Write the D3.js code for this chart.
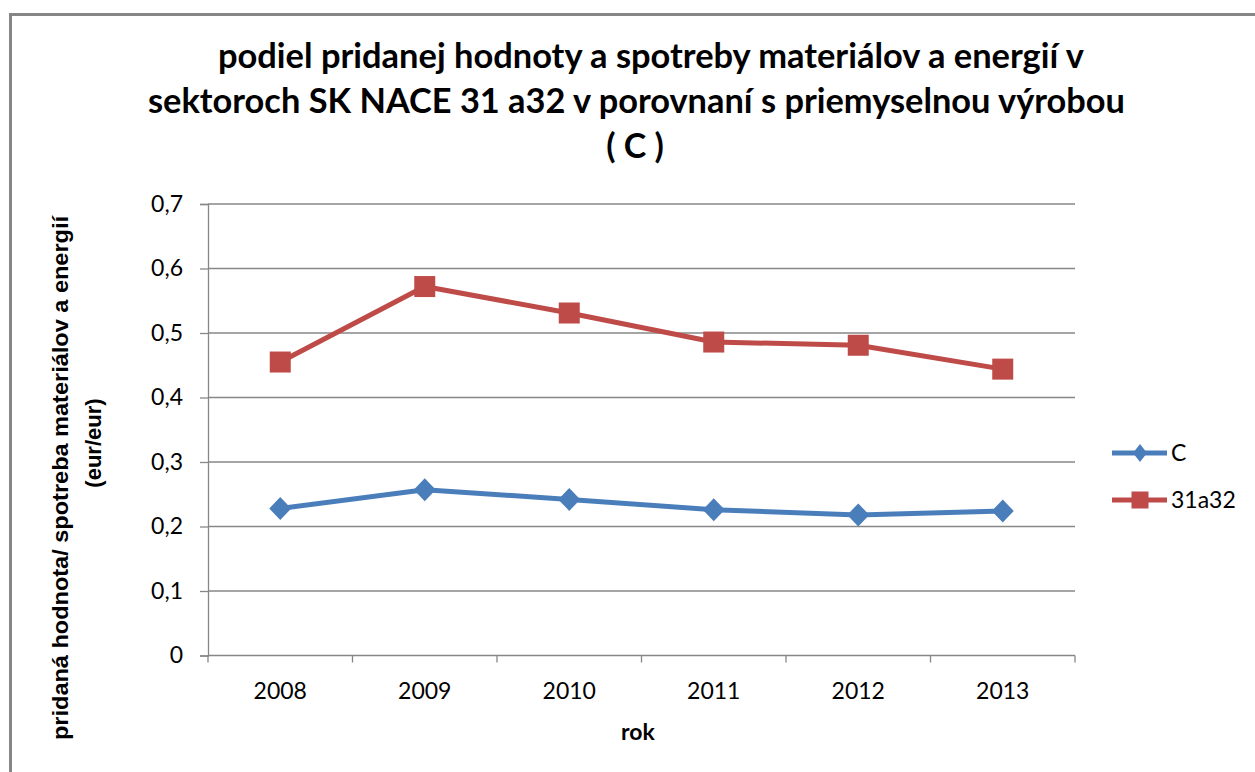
<!DOCTYPE html>
<html>
<head>
<meta charset="utf-8">
<script src="https://cdn.jsdelivr.net/npm/d3@7"></script>
<style>
  html, body { margin: 0; padding: 0; background: #fff; }
  svg { display: block; }
</style>
</head>
<body>
<svg id="chart" width="1255" height="772"></svg>
<script>
// ---- data ----
const years = ["2008", "2009", "2010", "2011", "2012", "2013"];
const seriesNames = ["C", "31a32"];
const valuesC = [0.228, 0.257, 0.242, 0.226, 0.218, 0.224];
const values3132 = [0.455, 0.572, 0.531, 0.486, 0.481, 0.444];
const yTicks = [0, 0.1, 0.2, 0.3, 0.4, 0.5, 0.6, 0.7];
const titleLines = [
  "podiel pridanej hodnoty a spotreby materiálov a energií v",
  "sektoroch SK NACE 31 a32 v porovnaní s priemyselnou výrobou",
  "( C )"
];
const yTitleLines = ["pridaná hodnota/ spotreba materiálov a energií", "(eur/eur)"];
const xTitle = "rok";

// ---- layout ----
const svg = d3.select("#chart");
const pL = 208, pR = 1075, pT = 204, pB = 655.5;
const blue = "#4A7EBB", red = "#BE4B48", grid = "#878787";

svg.append("rect").attr("width", 1255).attr("height", 772).attr("fill", "#fff");
svg.append("rect").attr("x", 10.5).attr("y", 14.5).attr("width", 1260).attr("height", 780)
  .attr("fill", "none").attr("stroke", "#868686").attr("stroke-width", 3);

const x = d3.scalePoint().domain(years).range([pL, pR]).padding(0.5);
const xBand = d3.scaleBand().domain(years).range([pL, pR]);
const y = d3.scaleLinear().domain([0, 0.7]).range([pB, pT]);

// gridlines
svg.append("g").selectAll("line").data(yTicks.filter(d => d > 0)).join("line")
  .attr("x1", pL).attr("x2", pR)
  .attr("y1", d => y(d)).attr("y2", d => y(d))
  .attr("stroke", grid).attr("stroke-width", 1.3);

// y axis
const yAxis = svg.append("g").attr("transform", `translate(${pL},0)`)
  .call(d3.axisLeft(y).tickValues(yTicks).tickSize(8).tickPadding(17)
    .tickFormat(d => d3.format(".1f")(d).replace(".", ",").replace(/^0,0$/, "0")));
yAxis.select(".domain").attr("stroke", grid).attr("stroke-width", 1.3);
yAxis.selectAll(".tick line").attr("stroke", grid).attr("stroke-width", 1.3);
yAxis.selectAll(".tick text").attr("font-family", "Lato, sans-serif").attr("font-size", 23)
  .attr("fill", "#000");

// x axis
const xAxisG = svg.append("g").attr("transform", `translate(0,${pB})`);
xAxisG.append("line").attr("x1", pL).attr("x2", pR).attr("y1", 0).attr("y2", 0)
  .attr("stroke", grid).attr("stroke-width", 1.5);
const bounds = years.map(d => xBand(d)).concat([pR]);
xAxisG.selectAll("line.tk").data(bounds).join("line").attr("class", "tk")
  .attr("x1", d => d).attr("x2", d => d).attr("y1", 0).attr("y2", 7)
  .attr("stroke", grid).attr("stroke-width", 1.3);
xAxisG.selectAll("text").data(years).join("text")
  .attr("x", d => x(d)).attr("y", 43).attr("text-anchor", "middle")
  .attr("font-family", "Lato, sans-serif").attr("font-size", 23).attr("fill", "#000")
  .text(d => d);

// lines & markers
const line = d3.line().x((d, i) => x(years[i])).y(d => y(d));
svg.append("path").datum(valuesC).attr("d", line).attr("fill", "none")
  .attr("stroke", blue).attr("stroke-width", 5).attr("stroke-linejoin", "round");
svg.append("path").datum(values3132).attr("d", line).attr("fill", "none")
  .attr("stroke", red).attr("stroke-width", 5).attr("stroke-linejoin", "round");

const diamond = (cx, cy, rx, ry) => `M${cx},${cy - ry}L${cx + rx},${cy}L${cx},${cy + ry}L${cx - rx},${cy}Z`;
svg.append("g").selectAll("path").data(valuesC).join("path")
  .attr("d", (d, i) => diamond(x(years[i]), y(d), 11, 11.5)).attr("fill", blue);
svg.append("g").selectAll("rect").data(values3132).join("rect")
  .attr("x", (d, i) => x(years[i]) - 10.5).attr("y", d => y(d) - 10.5)
  .attr("width", 21).attr("height", 21).attr("fill", red);

// legend
const legY = [453, 500];
const leg = svg.append("g");
leg.selectAll("line").data(seriesNames).join("line")
  .attr("x1", 1112).attr("x2", 1167).attr("y1", (d, i) => legY[i]).attr("y2", (d, i) => legY[i])
  .attr("stroke", (d, i) => i ? red : blue).attr("stroke-width", 5);
leg.append("path").attr("d", diamond(1140, legY[0], 7, 9)).attr("fill", blue);
leg.append("rect").attr("x", 1131.5).attr("y", legY[1] - 8.5).attr("width", 17).attr("height", 17).attr("fill", red);
leg.selectAll("text").data(seriesNames).join("text")
  .attr("x", 1171).attr("y", (d, i) => legY[i] + 8)
  .attr("font-family", "Lato, sans-serif").attr("font-size", 23).attr("fill", "#000")
  .text(d => d);

// title
const tpos = [{x: 218, y: 68, len: 866}, {x: 148, y: 113, len: 977}, {x: 635, y: 158}];
titleLines.forEach((t, i) => {
  const el = svg.append("text").attr("x", tpos[i].x).attr("y", tpos[i].y)
    .attr("font-family", "Lato, sans-serif").attr("font-weight", "bold").attr("font-size", 34)
    .attr("fill", "#000").text(t);
  if (tpos[i].len) el.attr("textLength", tpos[i].len).attr("lengthAdjust", "spacingAndGlyphs");
  else el.attr("text-anchor", "middle").attr("xml:space", "preserve");
});

// y title
svg.append("text").attr("transform", "translate(68,478) rotate(-90)").attr("text-anchor", "middle")
  .attr("font-family", "'Liberation Sans', Arial, sans-serif").attr("font-weight", "bold")
  .attr("font-size", 22).attr("fill", "#000")
  .attr("textLength", 524).attr("lengthAdjust", "spacingAndGlyphs").text(yTitleLines[0]);
svg.append("text").attr("transform", "translate(101,443) rotate(-90)").attr("text-anchor", "middle")
  .attr("font-family", "'Liberation Sans', Arial, sans-serif").attr("font-weight", "bold")
  .attr("font-size", 22).attr("fill", "#000").text(yTitleLines[1]);

// x title
svg.append("text").attr("x", 638).attr("y", 740).attr("text-anchor", "middle")
  .attr("font-family", "Lato, sans-serif").attr("font-weight", "bold").attr("font-size", 23)
  .attr("fill", "#000").text(xTitle);
</script>
</body>
</html>
